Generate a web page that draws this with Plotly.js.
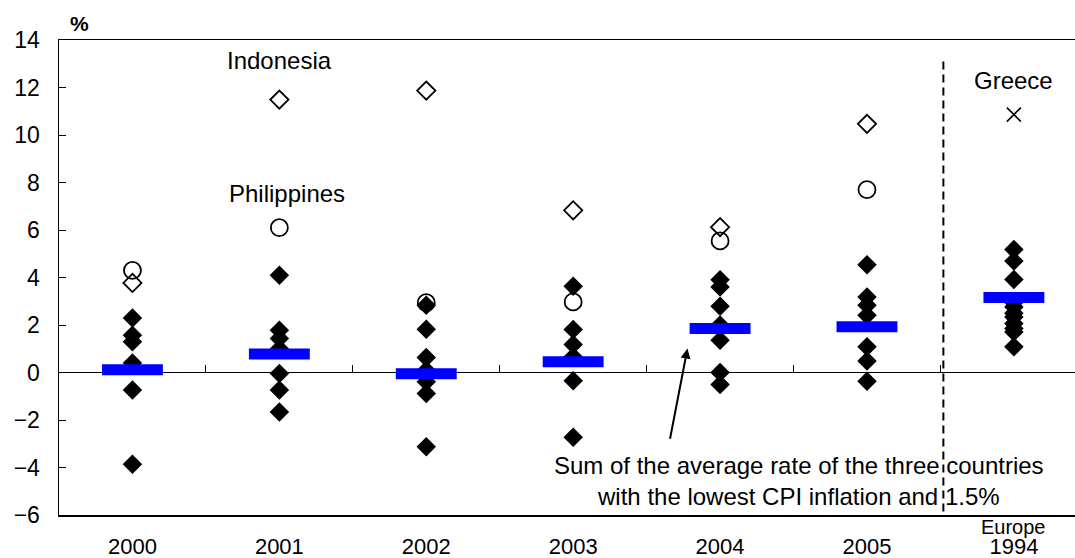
<!DOCTYPE html>
<html>
<head>
<meta charset="utf-8">
<script src="https://cdn.plot.ly/plotly-3.0.1.min.js"></script>
<style>html,body{margin:0;padding:0;background:#fff;}#chart{width:1075px;height:558px;}</style>
</head>
<body>
<div id="chart"></div>
<script>
// ---- data ----
var categories = ['2000', '2001', '2002', '2003', '2004', '2005', '1994'];
var tickLabels = ['2000', '2001', '2002', '2003', '2004', '2005', '1994'];
var groupLabel = 'Europe';

// other countries' CPI inflation (filled diamonds), per category
var others2000 = [2.3, 1.57, 1.29, 0.4, -0.74, -3.86];
var others2001 = [4.09, 1.78, 1.43, 1.0, -0.04, -0.74, -1.66];
var others2002 = [2.83, 1.82, 0.63, 0.1, -0.39, -0.88, -3.13];
var others2003 = [3.63, 1.81, 1.18, 0.66, -0.35, -2.73];
var others2004 = [3.91, 3.6, 2.79, 2.0, 1.36, 0.0, -0.5];
var others2005 = [4.54, 3.18, 2.83, 2.41, 1.08, 0.48, -0.37];
var others1994 = [5.18, 4.69, 3.92, 2.95, 2.76, 2.5, 2.34, 2.06, 1.85, 1.71, 1.08];

var indonesia = [3.77, 11.49, 11.87, 6.83, 6.12, 10.47];       // 2000-2005
var philippines = [4.30, 6.10, 2.94, 2.97, 5.54, 7.70];        // 2000-2005
var greece = [10.86];                                            // 1994
var reference = [0.12, 0.78, -0.05, 0.45, 1.85, 1.93, 3.16];    // lowest-3 average + 1.5%

var noteText = 'Sum of the average rate of the three countries<br>with the lowest CPI inflation and 1.5%';

// ---- build traces ----
var othersByCat = [others2000, others2001, others2002, others2003, others2004, others2005, others1994];
var ox = [], oy = [];
othersByCat.forEach(function (arr, i) {
  arr.forEach(function (v) { ox.push(categories[i]); oy.push(v); });
});
var asiaCats = categories.slice(0, 6);
function idx(c) { return categories.indexOf(c); }

var font = 'Liberation Sans, Arial, sans-serif';

var traces = [
  {
    type: 'scatter', mode: 'markers', x: asiaCats, y: philippines, name: 'Philippines',
    marker: { symbol: 'circle-open', size: 17, color: '#000', line: { color: '#000', width: 1.8 } },
    hoverinfo: 'skip'
  },
  {
    type: 'scatter', mode: 'markers', x: asiaCats, y: indonesia, name: 'Indonesia',
    marker: { symbol: 'diamond-open', size: 14, color: '#000', line: { color: '#000', width: 1.8 } },
    hoverinfo: 'skip'
  },
  {
    type: 'scatter', mode: 'markers', x: ox, y: oy, name: 'Others',
    marker: { symbol: 'diamond', size: 15, color: '#000', line: { width: 0 } },
    hoverinfo: 'skip'
  },
  {
    type: 'scatter', mode: 'markers', x: ['1994'], y: greece, name: 'Greece',
    marker: { symbol: 'x-thin', size: 14, color: '#000', line: { color: '#000', width: 1.6 } },
    hoverinfo: 'skip'
  },
  {
    type: 'scatter', mode: 'markers', x: categories, y: reference, name: 'Reference',
    marker: { symbol: 'line-ew', size: 43.5, color: '#0000ff', line: { color: '#0000ff', width: 11 } },
    hoverinfo: 'skip'
  },
  {
    type: 'scatter', mode: 'markers', x: [null], y: [null], xaxis: 'x2', yaxis: 'y',
    hoverinfo: 'skip', showlegend: false
  }
];

var xr = [-0.5, 6.416];
var sepTicks = [];
for (var k = 0; k < categories.length - 1; k++) sepTicks.push(k + 0.5);

var layout = {
  width: 1075, height: 558,
  margin: { l: 59, r: 0, t: 40, b: 43, pad: 0 },
  paper_bgcolor: '#fff', plot_bgcolor: '#fff',
  showlegend: false,
  font: { family: font, size: 22, color: '#000' },
  xaxis: {
    type: 'category', categoryorder: 'array', categoryarray: categories,
    range: xr, showgrid: false, zeroline: false,
    showline: true, mirror: true, linecolor: '#000', linewidth: 1.5,
    ticks: '', tickmode: 'array', tickvals: categories, ticktext: tickLabels,
    tickfont: { family: font, size: 22, color: '#000' },
    ticklabelstandoff: 11, fixedrange: true
  },
  xaxis2: {
    type: 'linear', overlaying: 'x', anchor: 'free', position: 0.3, side: 'bottom',
    range: xr, showgrid: false, zeroline: false, showline: false,
    ticks: 'inside', ticklen: 8, tickwidth: 1, tickcolor: '#000',
    tickmode: 'array', tickvals: sepTicks, showticklabels: false, fixedrange: true
  },
  yaxis: {
    range: [-6, 14], dtick: 2, tick0: 0, showgrid: false,
    zeroline: true, zerolinecolor: '#000', zerolinewidth: 1,
    showline: true, mirror: false, linecolor: '#000', linewidth: 1.5,
    ticks: 'inside', ticklen: 7, tickwidth: 1, tickcolor: '#000',
    tickfont: { family: font, size: 23, color: '#000' },
    ticklabelstandoff: 13, fixedrange: true
  },
  shapes: [
    {
      type: 'line', xref: 'x', yref: 'y', x0: 5.52, x1: 5.52, y0: 13.1, y1: -6,
      line: { color: '#000', width: 2, dash: '8px,5px' }
    }
  ],
  annotations: [
    { text: '%', xref: 'paper', yref: 'paper', x: 0.02, y: 1.0, xanchor: 'center', yanchor: 'bottom',
      yshift: 3, showarrow: false, font: { family: font, size: 21, color: '#000', weight: 'bold' } },
    { text: 'Indonesia', xref: 'x', yref: 'y', x: idx('2001'), y: 13.13, showarrow: false,
      xanchor: 'center', yanchor: 'middle', font: { family: font, size: 24, color: '#000' } },
    { text: 'Philippines', xref: 'x', yref: 'y', x: idx('2001') + 0.05, y: 7.54, showarrow: false,
      xanchor: 'center', yanchor: 'middle', font: { family: font, size: 24, color: '#000' } },
    { text: 'Greece', xref: 'x', yref: 'y', x: idx('1994'), y: 12.29, showarrow: false,
      xanchor: 'center', yanchor: 'middle', font: { family: font, size: 24, color: '#000' } },
    { text: groupLabel, xref: 'x', yref: 'paper', x: idx('1994'), y: -0.025, showarrow: false,
      xanchor: 'center', yanchor: 'middle', font: { family: font, size: 20, color: '#000' } },
    { text: noteText, xref: 'x', yref: 'y', x: 4.535, y: -4.57, showarrow: false,
      xanchor: 'center', yanchor: 'middle', align: 'center',
      font: { family: font, size: 24, color: '#000' } },
    { text: '', xref: 'x', yref: 'y', x: 3.778, y: 1.01, showarrow: true,
      ax: -17.7, ay: 91.7, arrowhead: 2, arrowsize: 1, arrowwidth: 2, arrowcolor: '#000', standoff: 0 }
  ]
};

Plotly.newPlot('chart', traces, layout, { staticPlot: true, displayModeBar: false });
</script>
</body>
</html>
